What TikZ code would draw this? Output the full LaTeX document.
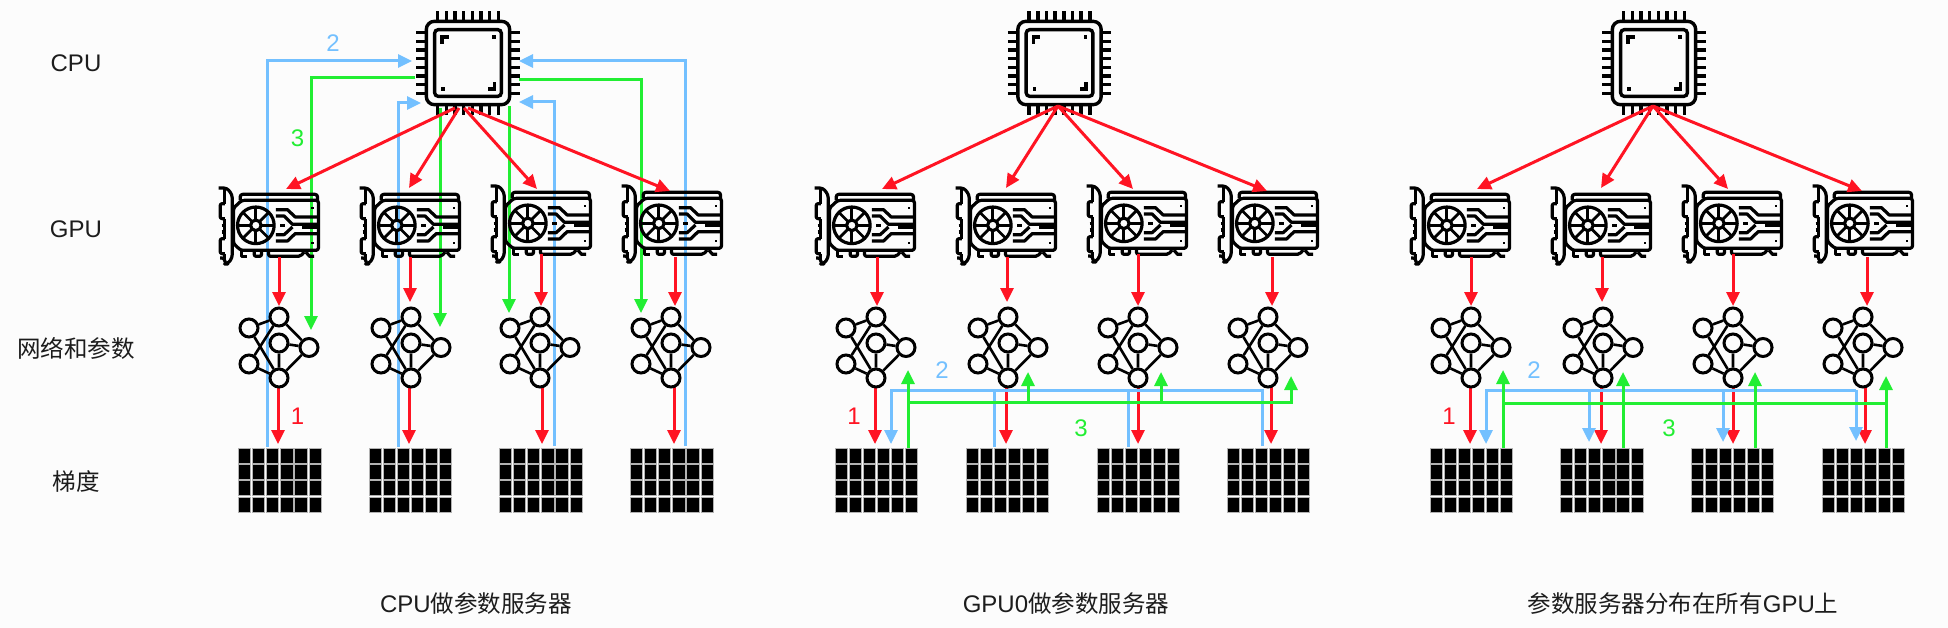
\documentclass[tikz,border=0pt]{standalone}
\usepackage{fontspec}
\setmainfont{Liberation Sans}
\newfontfamily\cjk[Scale=0.98]{Noto Sans CJK SC}
\usetikzlibrary{arrows.meta}
\definecolor{bgc}{HTML}{FCFCFC}
\definecolor{redc}{HTML}{FF1423}
\definecolor{bluec}{HTML}{73C0FF}
\definecolor{greenc}{HTML}{22EE33}
\definecolor{textc}{HTML}{1C1C1C}
\tikzset{
  x=1pt,y=-1pt,
  arrowline/.style={line width=3pt,line join=miter},
  tipped/.style={arrowline,-{Triangle[length=14pt,width=13pt]}},
  redarrow/.style={tipped,draw=redc,color=redc},
  bluearrow/.style={tipped,draw=bluec,color=bluec},
  greenarrow/.style={tipped,draw=greenc,color=greenc},
  blueline/.style={arrowline,draw=bluec},
  greenline/.style={arrowline,draw=greenc},
  anybox/.style={draw=none,inner sep=0pt,outer sep=0pt},
  cpubox/.style={anybox,minimum width=104pt,minimum height=104pt},
  gpubox/.style={anybox,minimum width=103pt,minimum height=76pt},
  netbox/.style={anybox,minimum width=81pt,minimum height=81pt},
  gridbox/.style={anybox,minimum width=83pt,minimum height=63pt},
  rowlabel/.style={anybox,text=textc,font=\fontsize{24}{28}\selectfont},
  numlabel/.style={anybox,font=\fontsize{24}{28}\selectfont},
  netcircle/.style={draw=black,circle,line width=3pt,minimum size=18pt,inner sep=0pt,outer sep=1.5pt},
  cpuicon/.pic={
    \begin{scope}[x=.3333pt,y=-.3333pt,line width=3.4pt,draw=black]
      \draw[rounded corners=8pt] (-125,-125) rectangle (125,125);
      \draw[rounded corners=3.5pt] (-100,-100) rectangle (100,100);
      \foreach \p in {-91,-65,-39,-13,13,39,65,91}{
        \draw[line width=3.5pt] (\p,-155) -- (\p,-125);
        \draw[line width=3.5pt] (\p,125) -- (\p,155);
        \draw[line width=3.5pt] (-155,\p) -- (-125,\p);
        \draw[line width=3.5pt] (125,\p) -- (155,\p);
      }
      \draw (-78,-58) -- (-78,-78) -- (-58,-78);
      \draw (80,58) -- (80,78) -- (60,78);
      \fill[black] (72,-83) rectangle (83,-72);
      \fill[black] (-81,72) rectangle (-70,83);
    \end{scope}
  },
  gpuicon/.pic={
    \begin{scope}[x=.3333pt,y=-.3333pt,shift={(-178,-149)},line width=3.2pt,draw=black,line join=round]
      \draw[rounded corners=3pt] (25,38) -- (50,38) -- (66,58) -- (66,248) -- (52,266) -- (44,266) -- (44,248) -- (30,248);
      \draw (44,38) -- (44,85);
      \draw[rounded corners=2pt] (44,85) -- (30,85) -- (30,130) -- (44,130);
      \draw (44,130) -- (44,190);
      \draw[rounded corners=2pt] (44,190) -- (30,190) -- (30,235) -- (44,235);
      \draw (44,235) -- (44,250);
      \draw (34,150) -- (44,150) (34,170) -- (44,170);
      \draw[rounded corners=2.5pt] (95,75) -- (325,75) -- (325,225) -- (92,225) -- (70,205) -- (70,98) -- cycle;
      \draw[rounded corners=2.5pt] (90,75) -- (90,57) -- (322,57) -- (322,75);
      \draw (95,228) -- (95,243) -- (109,243);
      \draw[rounded corners=2pt] (132,226) -- (132,243) -- (154,243) -- (154,226);
      \draw[rounded corners=2pt] (175,226) -- (175,243) -- (271,243) -- (282,230);
      \draw (287,230) -- (298,243) -- (312,243);
      \draw (137,150) circle (18.3pt);
      \draw (137,150) circle (5.3pt);
      \foreach \a in {0,45,...,315}{
        \draw[line width=2.8pt] ([shift={(137,150)}]\a:5.3pt) -- ([shift={(137,150)}]\a:18.3pt);
      }
      \draw (197,103) -- (232,103) -- (255,125) -- (322,125);
      \draw (197,122) -- (222,122) -- (247,147) -- (322,147);
      \draw (210,150) -- (225,150);
      \draw (197,197) -- (232,197) -- (255,175) -- (322,175);
      \draw (197,178) -- (222,178) -- (247,155);
      \draw (275,155) -- (322,155);
      \fill[black] (304,94) rectangle (312,102);
      \fill[black] (304,199) rectangle (312,207);
    \end{scope}
  },
  neticon/.pic={
    \node[netcircle] (-a) at (-30,-19.5) {};
    \node[netcircle] (-b) at (-30,16.5) {};
    \node[netcircle] (-c) at (0,-30.5) {};
    \node[netcircle] (-d) at (0,-4.5) {};
    \node[netcircle] (-e) at (0,30.5) {};
    \node[netcircle] (-f) at (30,0) {};
    \draw[line width=2.6pt] (-a) -- (-c) (-a) -- (-e) (-b) -- (-c) (-b) -- (-e)
      (-c) -- (-f) (-d) -- (-f) (-d) -- (-e) (-e) -- (-f);
  },
  gridicon/.pic={
    \foreach \r in {0,16.7,32.3,49}{
      \foreach \c in {0,14.1,28.2,42.3,56.4,70.5}{
        \path[fill=black,draw=gray!60,line width=.5pt] (-41.2+\c,-31.5+\r) rectangle (-29+\c,-16.7+\r);
      }
    }
  },
}
\begin{document}
\begin{tikzpicture}
\fill[bgc] (0,0) rectangle (1948,628);
\useasboundingbox (0,0) rectangle (1948,628);
% anchors of the icons
\node[cpubox] (c1) at (468,63) {};
\node[cpubox] (c2) at (1059.5,63) {};
\node[cpubox] (c3) at (1654,63) {};
\foreach \nm/\px/\py in {g11/269.5/225,g12/410.5/225,g13/541.5/223,g14/672.5/223,
  g21/865.5/225,g22/1006.5/225,g23/1137.5/223,g24/1268.5/223,
  g31/1460.5/225,g32/1601.5/225,g33/1732.5/223,g34/1863.5/223}
  {\node[gpubox] (\nm) at (\px,\py) {};}
\foreach \nm/\px in {n11/279,n12/411,n13/540,n14/671,
  n21/876,n22/1008,n23/1138,n24/1268,
  n31/1471,n32/1603,n33/1733,n34/1863}
  {\node[netbox] (\nm) at (\px,347.5) {};}
\foreach \nm/\px in {d11/279.5,d12/410,d13/540.5,d14/671.5,
  d21/876,d22/1007,d23/1138,d24/1268,
  d31/1471,d32/1601.5,d33/1732,d34/1863}
  {\node[gridbox] (\nm) at (\px,479.5) {};}
% red: network to gradient
\foreach \a/\ax/\b/\bx in {n11/-1/d11/-1.5,n12/-2/d12/-1,n13/2/d13/1.5,n14/3/d14/2.5,
  n21/-1/d21/-1,n22/-2/d22/-1,n23/0/d23/0,n24/3/d24/3,
  n31/-1/d31/-1,n32/-2/d32/-.5,n33/0/d33/1,n34/2/d34/2}
  {\draw[redarrow] ([shift={(\ax,-2)}]\a.south) -- ([shift={(\bx,-4)}]\b.north);}
% panel 1: blue
\draw[bluearrow] ([shift={(-12.5,-1)}]d11.north) |- ([shift={(-4,-2)}]c1.west);
\draw[bluearrow] ([shift={(-12,-1)}]d12.north) |- ([shift={(5,40)}]c1.west);
\draw[bluearrow] ([shift={(13.5,-2)}]d13.north) |- ([shift={(-1,39)}]c1.east);
\draw[bluearrow] ([shift={(13.5,-2)}]d14.north) |- ([shift={(-1,-2)}]c1.east);
% panel 1: green
\draw[greenarrow] ([shift={(-1,15)}]c1.west) -| ([shift={(32,23)}]n11.north);
\draw[greenarrow] ([shift={(-28,-7)}]c1.south) -- ([shift={(29,20)}]n12.north);
\draw[greenarrow] ([shift={(41,-9)}]c1.south) -- ([shift={(-31,6)}]n13.north);
\draw[greenarrow] ([shift={(-1,17)}]c1.east) -| ([shift={(-30,6)}]n14.north);
% panel 2: blue
\draw[bluearrow] ([shift={(-6,-2)}]d24.north) |- ([shift={(15,2)}]n21.south) -- ([shift={(15,-4)}]d21.north);
\draw[blueline] ([shift={(-13,-1)}]d22.north) -- ([shift={(-14,2)}]n22.south);
\draw[blueline] ([shift={(-10,-1)}]d23.north) -- ([shift={(-10,2)}]n23.south);
% panel 2: green
\draw[greenarrow] ([shift={(32,1)}]d21.north) -- ([shift={(32,-18)}]n21.south);
\draw[greenarrow] ([shift={(32,14)}]n21.south) -| ([shift={(23,-12)}]n24.south);
\draw[greenarrow] ([shift={(20,14)}]n22.south) -- ([shift={(20,-16)}]n22.south);
\draw[greenarrow] ([shift={(23,14)}]n23.south) -- ([shift={(23,-16)}]n23.south);
% panel 3: blue
\draw[bluearrow] ([shift={(-7,2)}]n34.south) -- ([shift={(15,2)}]n31.south) -- ([shift={(15,-4)}]d31.north);
\draw[bluearrow] ([shift={(-14,2)}]n32.south) -- ([shift={(-12.5,-6)}]d32.north);
\draw[bluearrow] ([shift={(-10,2)}]n33.south) -- ([shift={(-9,-6)}]d33.north);
\draw[bluearrow] ([shift={(-7,2)}]n34.south) -- ([shift={(-7,-7)}]d34.north);
% panel 3: green
\draw[greenline] ([shift={(32,15)}]n31.south) -- ([shift={(23,15)}]n34.south);
\draw[greenarrow] ([shift={(32,0)}]d31.north) -- ([shift={(32,-18)}]n31.south);
\draw[greenarrow] ([shift={(21.5,0)}]d32.north) -- ([shift={(20,-16)}]n32.south);
\draw[greenarrow] ([shift={(23,0)}]d33.north) -- ([shift={(22,-16)}]n33.south);
\draw[greenarrow] ([shift={(23,0)}]d34.north) -- ([shift={(23,-12)}]n34.south);
% icons
\foreach \nm in {c1,c2,c3}{\pic at (\nm.center) {cpuicon};}
\foreach \nm in {g11,g12,g13,g14,g21,g22,g23,g24,g31,g32,g33,g34}{\pic at (\nm.center) {gpuicon};}
\foreach \nm in {n11,n12,n13,n14,n21,n22,n23,n24,n31,n32,n33,n34}{\pic (\nm i) at (\nm.center) {neticon};}
\foreach \nm in {d11,d12,d13,d14,d21,d22,d23,d24,d31,d32,d33,d34}{\pic at (\nm.center) {gridicon};}
% red: CPU to GPU
\foreach \c/\cx/\cy/\g/\gx/\gy in {c1/-13/-7/g11/16.5/2,c1/-9/-7/g12/-1.5/1,c1/-4/-7/g13/-4.5/4,c1/0/-7/g14/-2.5/6,
  c2/-1.5/-9/g21/16.5/2,c2/-1.5/-9/g22/-.5/1,c2/-1.5/-9/g23/-4.5/4,c2/-1.5/-9/g24/-1.5/6,
  c3/-1/-9/g31/16.5/2,c3/-1/-9/g32/-.5/1,c3/-1/-9/g33/-4.5/4,c3/-1/-9/g34/-1.5/6}
  {\draw[redarrow] ([shift={(\cx,\cy)}]\c.south) -- ([shift={(\gx,\gy)}]\g.north);}
% red: GPU to network
\foreach \g/\gx/\gy/\n/\nx/\ny in {g11/9.5/-6/n11/0/-1,g12/-.5/-6/n12/-1/-5,g13/-.5/-7/n13/1/-1,g14/2.5/-4/n14/4/-1,
  g21/11.5/-6/n21/1/-1,g22/.5/-6/n22/-1/-5,g23/.5/-7/n23/0/-1,g24/3.5/-4/n24/4/-1,
  g31/10.5/-6/n31/0/-1,g32/.5/-6/n32/-1/-5,g33/.5/-7/n33/0/-1,g34/3.5/-4/n34/4/-1}
  {\draw[redarrow] ([shift={(\gx,\gy)}]\g.south) -- ([shift={(\nx,\ny)}]\n.north);}
% numbers
\node[numlabel,text=bluec] (l12) at (333,43) {2};
\node[numlabel,text=greenc] (l13) at (297.5,138) {3};
\node[numlabel,text=redc] (l11) at (297.5,416) {1};
\node[numlabel,text=bluec] (l22) at (942,370) {2};
\node[numlabel,text=redc] (l21) at (854,416) {1};
\node[numlabel,text=greenc] (l23) at (1081,428) {3};
\node[numlabel,text=bluec] (l32) at (1534,370) {2};
\node[numlabel,text=redc] (l31) at (1449,416) {1};
\node[numlabel,text=greenc] (l33) at (1669,428) {3};
% row labels
\node[rowlabel] (rcpu) at (76,63) {CPU};
\node[rowlabel] (rgpu) at (76,229) {GPU};
\node[rowlabel] (rnet) at (76,348) {\cjk 网络和参数};
\node[rowlabel] (rgrad) at (76,482) {\cjk 梯度};
% titles
\node[rowlabel] (t1) at (476,604) {CPU{\cjk 做参数服务器}};
\node[rowlabel] (t2) at (1066,604) {GPU0{\cjk 做参数服务器}};
\node[rowlabel] (t3) at (1683,604) {{\cjk 参数服务器分布在所有}GPU{\cjk 上}};
\end{tikzpicture}
\end{document}
